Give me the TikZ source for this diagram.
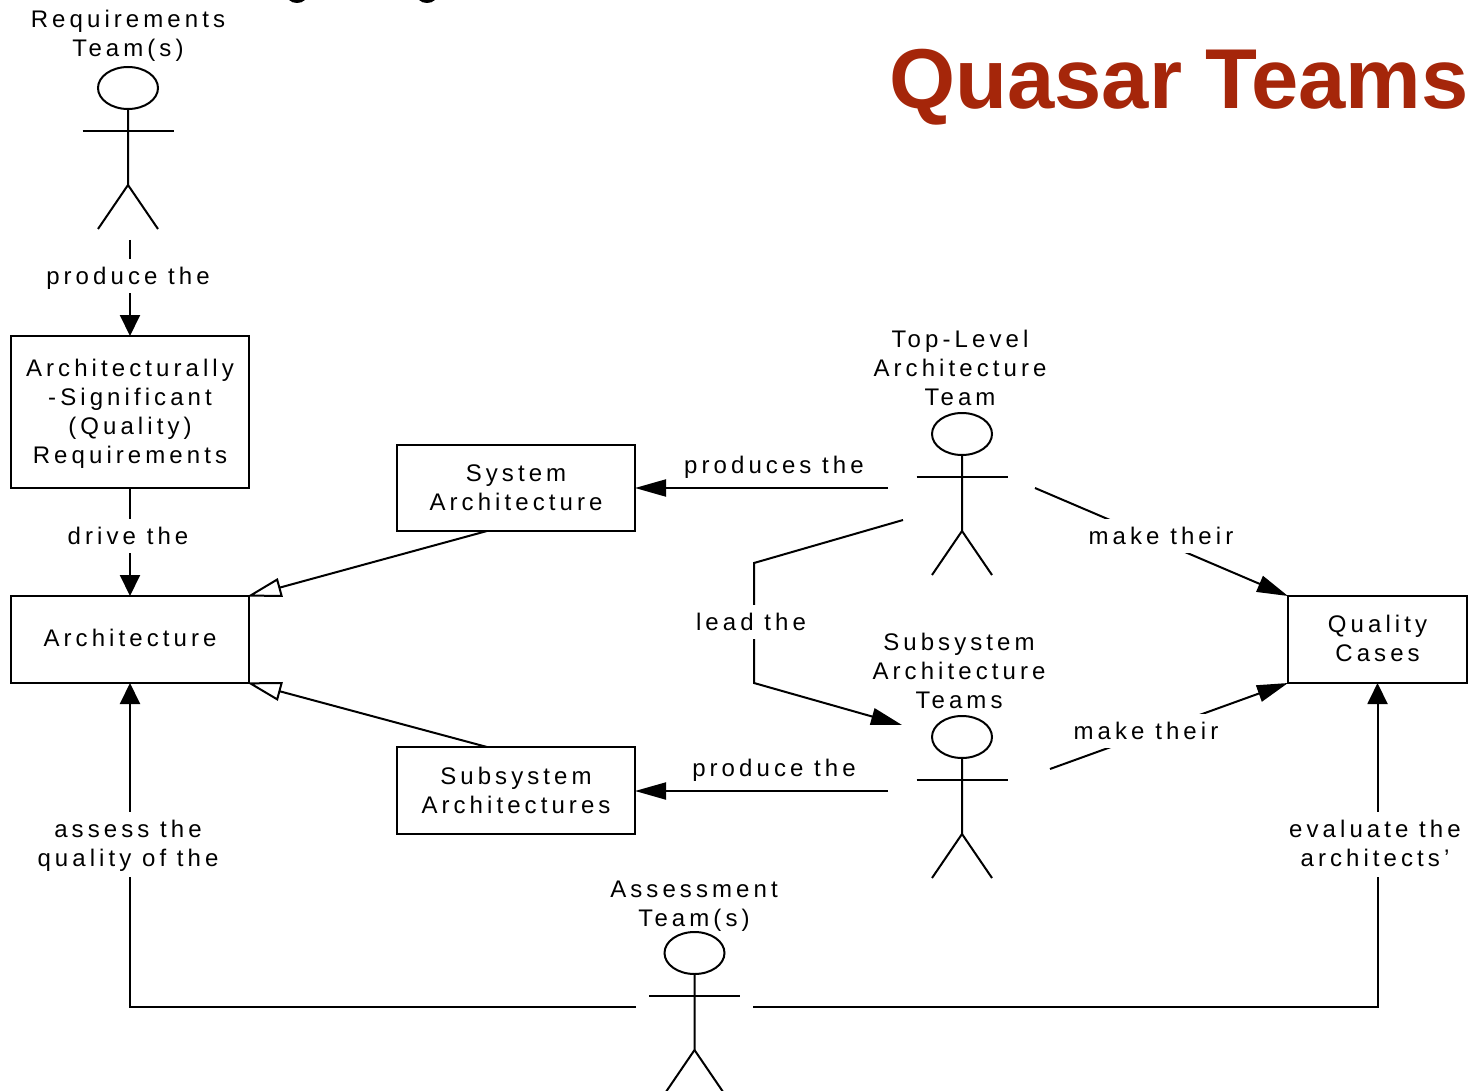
\documentclass[tikz,border=0pt]{standalone}
\usepackage{fontspec}
\setmainfont{Liberation Sans}[LetterSpace=17]
\newfontfamily\titlefont{Liberation Sans}
\usetikzlibrary{arrows.meta,calc}
\definecolor{titlered}{RGB}{165,38,10}
\tikzset{
	line/.style={line width=2pt},
	box/.style={draw, line width=2pt, rectangle, outer sep=0pt, align=center, inner sep=0pt, font=\fontsize{24}{29}\selectfont},
	tag/.style={align=center, inner sep=0pt, font=\fontsize{24}{29}\selectfont},
	cut/.style={tag, fill=white, inner ysep=6pt, text height=19pt, text depth=3pt},
	cuttwo/.style={cut, inner ysep=7pt, text height=48pt},
	down/.style={-{Triangle[length=21pt,width=20pt]}},
	slant/.style={-{Triangle[length=31pt,width=17pt]}},
	hollow/.style={-{Triangle[open,fill=white,length=35pt,width=19pt]}, shorten >=-2.5pt},
}
\def\actor(#1,#2)#3{
	\coordinate (#3) at (#1,#2);
	\draw[line] (#3) ellipse [x radius=30pt, y radius=21pt];
	\draw[line] ($(#3)+(0,21)$) -- ++(0,76) -- ++(-30,44);
	\draw[line] ($(#3)+(0,97)$) -- ++(30,44);
	\draw[line] ($(#3)+(-45.5,43)$) -- ++(91,0);
}
\begin{document}
\begin{tikzpicture}[x=1pt,y=-1pt]
		\clip (0,0) rectangle (1469,1091);
		
		% heading
		\node[inner sep=0pt, anchor=base east, text=titlered, font=\titlefont\bfseries\fontsize{85}{85}\selectfont] (title) at (1469,109) {Quasar Teams};
		\fill (289,0) .. controls (293,4) and (301,4) .. (305,0) -- cycle;
		\fill (419,0) .. controls (423,4) and (431,4) .. (435,0) -- cycle;
		
		% actors
		\actor(128,88){reqteam}
		\actor(962,434){topteam}
		\actor(962,737){subteam}
		\actor(694.5,953){assessteam}
		
		\node[tag] (reqname) at (128,35.5) {Requirements\\Team(s)};
		\node[tag] (topname) at (960,368) {Top-Level\\Architecture\\Team};
		\node[tag] (subname) at (959,671) {Subsystem\\Architecture\\Teams};
		\node[tag] (assessname) at (694,906.5) {Assessment\\Team(s)};
		
		% boxes
		\node[box, minimum width=238pt, minimum height=152pt, text height=108pt] (asr) at (130,412) {Architecturally\\-Significant\\(Quality)\\Requirements};
		\node[box, minimum width=238pt, minimum height=87pt, text depth=3pt] (arch) at (130,639.5) {Architecture};
		\node[box, minimum width=238pt, minimum height=86pt] (sysarch) at (516,488) {System\\Architecture};
		\node[box, minimum width=238pt, minimum height=87pt] (subarch) at (516,790.5) {Subsystem\\Architectures};
		\node[box, minimum width=179pt, minimum height=87pt, text depth=2pt] (cases) at (1377.5,639.5) {Quality\\Cases};
		
		% free ends
		\coordinate (reqout) at (130,240);
		\coordinate (topleft) at (888,488);
		\coordinate (topright) at (1035,488);
		\coordinate (toplead) at (903,520);
		\coordinate (subin) at (902,725);
		\coordinate (subleft) at (888,791);
		\coordinate (subright) at (1050,769);
		\coordinate (assessleft) at (636,1007);
		\coordinate (assessright) at (753,1007);
		
		% connectors
		\draw[line, down] (reqout) -- (asr.north -| reqout);
		\draw[line, down] (asr.south) -- (arch.north);
		\draw[line, hollow] (sysarch.south) ++(-29,0) -- (arch.north east);
		\draw[line, hollow] (subarch.north) ++(-29,0) -- (arch.south east);
		\draw[line, slant] (topleft) -- (sysarch.east |- topleft);
		\draw[line, slant] (subleft) -- (subarch.east |- subleft);
		\draw[line, slant] (topright) -- (cases.north west);
		\draw[line, slant] (subright) -- (cases.south west);
		\draw[line, slant] (toplead) -- (754,563) -- (754,683) -- (subin);
		\draw[line, down] (assessleft) -| (arch.south);
		\draw[line, down] (assessright) -| (cases.south);
		
		% labels
		\node[cut] (producereq) at (128,276) {produce the};
		\node[cut] (drive) at (128,536) {drive the};
		\node[tag] (producestop) at (774,467) {produces the};
		\node[tag] (producesub) at (774,770) {produce the};
		\node[cut] (maketop) at (1161,536) {make their};
		\node[cut] (makesub) at (1146,731) {make their};
		\node[cut] (lead) at (751,622) {lead the};
		\node[cuttwo] (assess) at (128,844) {assess the\\quality of the};
		\node[cuttwo] (evaluate) at (1375,844) {evaluate the\\architects’};
	\end{tikzpicture}
\end{document}
